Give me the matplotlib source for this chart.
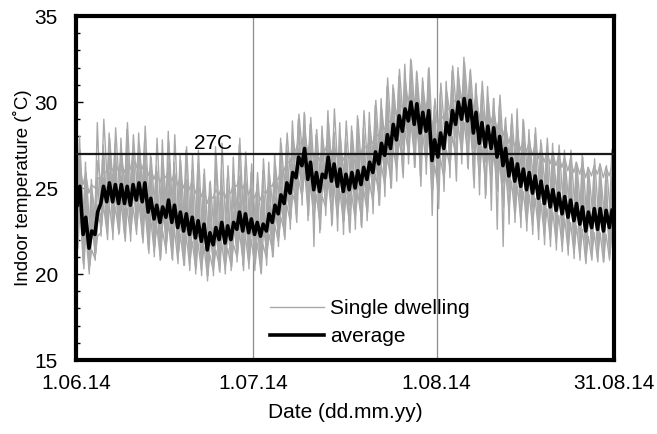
import numpy as np
from matplotlib import pyplot as plt

plt.rcParams['font.family'] = ['Liberation Sans', 'DejaVu Sans']

# data ---------------------------------------------
# daily low / high values, 1.06.14 .. 30.08.14 (91 days)
avg_lo = [24.0, 22.3, 21.5, 22.3, 24.1, 24.2, 24.2, 24.1, 24.1, 24.0,
          24.3, 24.2, 23.6, 23.2, 23.0, 23.3, 23.0, 22.7, 22.5, 22.3,
          22.1, 21.9, 21.4, 21.7, 22.0, 21.8, 22.0, 22.6, 22.5, 22.4,
          22.3, 22.2, 22.5, 23.0, 23.5, 24.1, 24.7, 25.6, 26.3, 25.5,
          24.9, 24.8, 25.6, 25.4, 25.1, 24.8, 24.9, 25.0, 25.2, 25.5,
          25.9, 26.4, 26.9, 27.3, 27.8, 28.3, 28.9, 28.7, 28.2, 28.3,
          26.6, 26.8, 27.3, 28.1, 28.7, 29.0, 28.9, 28.2, 27.6, 27.4,
          27.3, 26.8, 26.3, 25.7, 25.4, 25.1, 24.9, 24.7, 24.4, 24.1,
          23.9, 23.7, 23.5, 23.3, 23.1, 22.9, 22.5, 22.7, 22.6, 22.5, 22.7]
avg_hi = [25.1, 23.3, 22.5, 23.6, 25.1, 25.3, 25.2, 25.2, 25.1, 25.2,
          25.3, 25.3, 24.4, 24.0, 23.9, 24.3, 24.0, 23.6, 23.5, 23.3,
          23.1, 22.9, 22.4, 22.7, 23.0, 22.8, 23.0, 23.6, 23.5, 23.2,
          23.0, 22.9, 23.5, 24.0, 24.6, 25.3, 25.9, 26.8, 27.3, 26.5,
          25.9, 25.8, 26.8, 26.4, 26.1, 25.8, 25.9, 26.0, 26.2, 26.5,
          27.1, 27.6, 28.1, 28.7, 29.2, 29.6, 30.0, 29.9, 29.4, 29.5,
          27.8, 28.2, 28.8, 29.5, 30.0, 30.2, 30.1, 29.4, 28.8, 28.6,
          28.5, 28.0, 27.3, 26.7, 26.4, 26.1, 25.9, 25.7, 25.4, 25.1,
          24.9, 24.7, 24.5, 24.3, 24.1, 23.9, 23.6, 23.8, 23.8, 23.7, 23.7]

d1_lo = [23.8, 22.0, 21.6, 22.5, 24.0, 24.2, 24.1, 23.9, 24.0, 23.8,
         24.2, 24.0, 23.2, 22.9, 22.8, 23.1, 22.8, 22.5, 22.4, 22.1,
         21.9, 21.8, 21.1, 21.5, 21.8, 21.6, 21.9, 22.4, 22.2, 22.0,
         22.0, 21.8, 22.2, 22.7, 23.2, 23.8, 24.5, 25.3, 26.0, 25.2,
         24.6, 24.5, 25.3, 25.1, 24.8, 24.5, 24.6, 24.7, 24.9, 25.2,
         25.6, 26.0, 26.5, 27.0, 27.4, 27.9, 28.4, 28.3, 27.8, 27.9,
         26.2, 26.4, 26.9, 27.6, 28.3, 28.5, 28.5, 27.8, 27.2, 27.0,
         26.9, 26.4, 25.9, 25.3, 25.0, 24.7, 24.5, 24.2, 24.0, 23.7,
         23.4, 23.2, 23.0, 22.8, 22.6, 22.4, 22.0, 22.2, 22.1, 22.0, 22.3]
d1_hi = [28.0, 26.5, 25.5, 28.8, 27.5, 28.2, 27.6, 27.9, 28.4, 27.3,
         28.2, 27.8, 26.9, 26.3, 27.8, 28.3, 26.5, 26.9, 27.2, 26.0,
         26.4, 25.8, 25.3, 27.4, 26.1, 25.6, 26.8, 27.5, 26.2, 25.9,
         25.2, 26.0, 26.5, 27.0, 27.9, 27.6, 28.9, 29.0, 29.4, 28.7,
         28.1, 28.6, 29.5, 28.3, 28.8, 27.9, 28.6, 29.2, 28.5, 29.4,
         29.8, 30.2, 30.9, 31.0, 31.5, 32.2, 32.5, 31.8, 31.4, 31.9,
         29.8, 30.5, 31.2, 31.8, 32.0, 32.6, 31.6, 31.0, 30.6, 30.9,
         30.2, 29.8, 29.0, 28.7, 29.6, 29.0, 28.4, 28.1, 27.8, 27.4,
         27.6, 27.0, 27.2, 26.7, 26.5, 26.9, 26.2, 26.0, 26.4, 25.8, 27.2]

d2_lo = [25.7, 25.2, 24.7, 25.0, 25.5, 25.9, 26.0, 26.0, 25.9, 26.1,
         26.2, 26.1, 25.7, 25.5, 25.3, 25.6, 25.4, 25.1, 25.0, 24.9,
         24.7, 24.5, 24.1, 24.4, 24.6, 24.4, 24.7, 25.1, 24.9, 24.6,
         24.4, 24.3, 24.7, 25.1, 25.5, 26.0, 26.5, 27.2, 27.6, 27.1,
         26.7, 26.6, 27.2, 27.0, 26.8, 26.6, 26.7, 26.8, 27.0, 27.3,
         27.6, 28.0, 28.4, 28.8, 29.3, 29.7, 30.1, 30.0, 29.6, 29.7,
         28.6, 28.7, 29.0, 29.6, 30.0, 30.2, 30.1, 29.6, 29.1, 28.9,
         28.8, 28.4, 28.0, 27.6, 27.4, 27.2, 27.1, 26.9, 26.7, 26.5,
         26.4, 26.3, 26.2, 26.0, 25.9, 25.8, 25.6, 25.7, 25.8, 25.6, 25.7]
d2_hi = [26.3, 25.8, 25.2, 25.6, 26.0, 26.4, 26.5, 26.6, 26.4, 26.7,
         26.8, 26.6, 26.2, 26.0, 25.8, 26.1, 25.9, 25.7, 25.5, 25.4,
         25.2, 25.0, 24.6, 24.9, 25.1, 24.9, 25.2, 25.6, 25.4, 25.1,
         24.9, 24.8, 25.2, 25.6, 26.0, 26.5, 27.0, 27.7, 28.2, 27.6,
         27.2, 27.1, 27.8, 27.5, 27.3, 27.1, 27.2, 27.3, 27.5, 27.8,
         28.2, 28.6, 29.0, 29.4, 29.9, 30.3, 30.7, 30.6, 30.2, 30.3,
         29.2, 29.3, 29.6, 30.2, 30.6, 30.8, 30.7, 30.2, 29.7, 29.5,
         29.4, 29.0, 28.6, 28.2, 28.0, 27.8, 27.7, 27.5, 27.3, 27.1,
         27.0, 26.9, 26.8, 26.6, 26.5, 26.4, 26.2, 26.3, 26.4, 26.2, 26.3]

d3_lo = [22.2, 20.8, 20.2, 20.9, 22.4, 22.5, 22.4, 22.5, 22.3, 22.3,
         22.5, 22.3, 21.7, 21.3, 21.1, 21.4, 21.1, 20.8, 20.7, 20.5,
         20.4, 20.2, 19.9, 20.2, 20.5, 20.3, 20.5, 21.0, 20.9, 20.6,
         20.5, 20.4, 20.9, 21.4, 21.9, 22.5, 23.1, 24.0, 24.5, 23.8,
         23.2, 23.1, 23.9, 23.6, 23.3, 23.0, 23.1, 23.2, 23.4, 23.7,
         24.2, 24.7, 25.2, 25.6, 26.1, 26.6, 27.1, 26.9, 26.4, 26.5,
         24.6, 25.1, 25.6, 26.3, 26.9, 27.1, 27.0, 26.3, 25.7, 25.5,
         25.4, 24.9, 24.3, 23.8, 23.5, 23.2, 23.0, 22.8, 22.5, 22.2,
         22.0, 21.8, 21.6, 21.4, 21.2, 21.0, 20.7, 20.9, 20.8, 20.7, 20.9]
d3_hi = [23.8, 22.4, 21.4, 22.2, 24.0, 24.0, 23.9, 24.1, 23.8, 23.9,
         24.1, 23.8, 23.2, 22.8, 22.5, 23.0, 22.6, 22.3, 22.2, 21.9,
         21.8, 21.6, 21.1, 21.4, 21.8, 21.5, 21.7, 22.4, 22.2, 22.0,
         21.8, 21.7, 22.3, 22.8, 23.3, 24.0, 24.6, 25.5, 26.0, 25.3,
         24.6, 24.5, 25.4, 25.1, 24.8, 24.5, 24.6, 24.7, 24.9, 25.3,
         25.8, 26.3, 26.8, 27.3, 27.8, 28.3, 28.8, 28.6, 28.1, 28.2,
         26.3, 26.7, 27.2, 28.0, 28.6, 28.8, 28.7, 28.0, 27.4, 27.2,
         27.1, 26.6, 26.0, 25.4, 25.1, 24.8, 24.6, 24.4, 24.1, 23.8,
         23.6, 23.4, 23.2, 23.0, 22.8, 22.6, 22.2, 22.4, 22.4, 22.3, 22.4]

d4_lo = [22.0, 20.6, 20.0, 20.8, 22.2, 22.4, 22.0, 22.3, 22.1, 21.9,
         22.3, 22.1, 21.4, 21.0, 20.8, 21.2, 20.9, 20.6, 20.5, 20.2,
         20.0, 19.9, 19.6, 19.9, 20.2, 20.0, 20.2, 20.7, 20.5, 20.3,
         20.2, 20.1, 20.5, 21.0, 21.6, 22.2, 22.6, 23.5, 24.0, 23.1,
         21.6, 22.4, 23.4, 22.8, 22.5, 22.3, 22.5, 22.6, 22.8, 23.1,
         23.5, 24.0, 24.5, 25.0, 25.4, 25.9, 26.4, 26.2, 25.7, 25.8,
         23.4, 24.2, 24.8, 25.6, 26.2, 26.4, 26.2, 25.5, 24.6, 24.4,
         23.7, 22.6, 21.6, 22.9, 23.0, 22.7, 22.5, 22.3, 22.0, 21.7,
         21.6, 21.4, 21.3, 21.1, 20.9, 20.8, 20.6, 20.8, 20.7, 20.7, 20.8]
d4_hi = [26.8, 25.0, 24.2, 25.6, 27.0, 27.4, 26.8, 27.3, 26.9, 27.1,
         27.5, 27.0, 26.2, 25.8, 25.6, 26.4, 25.8, 25.4, 25.3, 25.0,
         24.9, 24.6, 24.1, 24.5, 24.9, 24.6, 25.0, 25.7, 25.4, 25.0,
         24.8, 24.6, 25.3, 25.8, 26.3, 27.2, 27.9, 28.8, 29.3, 28.4,
         27.8, 27.6, 28.5, 28.2, 27.9, 27.6, 27.8, 27.9, 28.1, 28.5,
         29.0, 29.5, 30.0, 30.6, 31.0, 31.5, 31.9, 31.7, 31.2, 31.3,
         29.4, 29.9, 30.5, 31.1, 31.7, 31.9, 31.8, 31.1, 30.5, 30.3,
         30.2, 29.7, 29.1, 28.5, 28.2, 27.9, 27.7, 27.4, 27.2, 26.9,
         26.8, 26.5, 26.4, 26.1, 25.9, 25.7, 25.3, 25.5, 25.6, 25.4, 25.6]

d5_lo = [23.1, 21.7, 21.0, 21.6, 23.2, 23.4, 23.3, 23.3, 23.2, 23.2,
         23.4, 23.2, 22.6, 22.2, 22.1, 22.4, 22.1, 21.8, 21.7, 21.4,
         21.3, 21.1, 20.6, 20.9, 21.2, 21.0, 21.2, 21.8, 21.6, 21.4,
         21.3, 21.2, 21.7, 22.2, 22.7, 23.3, 23.9, 24.8, 25.3, 24.6,
         24.0, 23.9, 24.8, 24.5, 24.2, 23.9, 24.0, 24.1, 24.3, 24.6,
         25.0, 25.5, 26.0, 26.5, 27.0, 27.5, 28.0, 27.8, 27.3, 27.4,
         25.7, 26.0, 26.5, 27.3, 27.9, 28.1, 28.0, 27.3, 26.7, 26.5,
         26.4, 25.9, 25.3, 24.8, 24.5, 24.2, 24.0, 23.8, 23.5, 23.2,
         23.0, 22.8, 22.6, 22.4, 22.2, 22.0, 21.6, 21.8, 21.8, 21.7, 21.8]
d5_hi = [25.5, 24.0, 23.2, 24.0, 25.6, 25.9, 25.8, 25.7, 25.6, 25.8,
         25.9, 25.7, 25.0, 24.6, 24.5, 24.9, 24.6, 24.1, 24.0, 23.8,
         23.6, 23.4, 22.9, 23.3, 23.6, 23.3, 23.6, 24.2, 24.0, 23.7,
         23.6, 23.5, 24.0, 24.5, 25.1, 25.8, 26.4, 27.3, 27.9, 27.0,
         26.5, 26.3, 27.3, 27.0, 26.7, 26.4, 26.5, 26.6, 26.8, 27.1,
         27.6, 28.1, 28.7, 29.2, 29.7, 30.2, 30.7, 30.5, 30.0, 30.1,
         28.5, 28.8, 29.3, 30.1, 30.7, 30.9, 30.8, 30.1, 29.5, 29.3,
         29.2, 28.7, 28.1, 27.5, 27.2, 26.9, 26.7, 26.5, 26.2, 25.9,
         25.7, 25.5, 25.3, 25.1, 24.9, 24.7, 24.3, 24.5, 24.5, 24.4, 24.5]

d6_lo = [24.6, 23.4, 22.8, 23.5, 25.0, 25.3, 24.9, 25.2, 25.0, 24.7,
         25.1, 24.8, 24.3, 24.0, 23.8, 24.2, 23.9, 23.6, 23.4, 23.2,
         23.0, 22.8, 22.4, 22.7, 23.0, 22.9, 23.1, 23.6, 23.4, 23.2,
         23.0, 22.9, 23.4, 23.9, 24.4, 25.0, 25.6, 26.4, 27.0, 26.3,
         25.8, 25.6, 26.4, 26.1, 25.9, 25.6, 25.7, 25.8, 26.0, 26.3,
         26.8, 27.2, 27.7, 28.2, 28.7, 29.1, 29.6, 29.4, 28.9, 29.0,
         27.8, 28.0, 28.5, 29.2, 29.7, 29.9, 29.8, 29.1, 28.6, 28.4,
         28.2, 27.8, 27.2, 26.7, 26.4, 26.1, 25.9, 25.7, 25.4, 25.1,
         24.9, 24.7, 24.5, 24.3, 24.1, 23.9, 23.6, 23.8, 23.7, 23.6, 23.8]
d6_hi = [27.2, 25.9, 24.8, 26.6, 29.0, 27.9, 28.5, 27.0, 28.8, 28.1,
         27.6, 28.6, 26.8, 27.9, 26.5, 27.7, 28.1, 26.6, 27.4, 26.9,
         27.2, 26.1, 25.4, 26.9, 27.6, 26.3, 25.8, 27.9, 27.1, 26.4,
         25.9, 26.7, 25.8, 26.4, 27.6, 28.2, 28.0, 29.3, 28.6, 29.1,
         28.4, 27.9, 28.8, 29.6, 28.0, 28.9, 28.3, 29.0, 29.5, 28.6,
         30.1, 29.6, 31.4, 30.8, 31.9, 31.2, 32.4, 31.5, 30.9, 32.0,
         30.2, 31.1, 30.6, 32.1, 31.4, 32.3, 31.9, 30.5, 31.2, 30.2,
         29.6, 30.4, 28.6, 29.3, 28.4, 28.9, 27.8, 28.5, 27.6, 27.9,
         27.1, 27.5, 26.6, 27.2, 26.4, 26.8, 26.0, 26.7, 25.9, 26.3, 25.8]

d7_lo = [21.5, 20.3, 20.5, 21.2, 22.8, 22.0, 23.1, 22.4, 21.9, 22.6,
         22.9, 21.8, 21.2, 21.6, 20.9, 21.9, 20.8, 21.3, 20.5, 20.9,
         20.3, 20.7, 19.9, 20.6, 20.1, 20.8, 20.4, 21.1, 20.2, 20.8,
         20.6, 20.0, 21.3, 21.0, 22.2, 22.0, 23.2, 23.0, 24.8, 23.4,
         23.8, 22.6, 24.1, 22.9, 23.9, 23.1, 22.4, 23.8, 22.7, 23.6,
         24.8, 24.0, 25.6, 25.0, 26.4, 25.6, 27.0, 26.2, 25.1, 26.8,
         24.9, 23.8, 25.9, 26.6, 25.4, 27.2, 26.1, 25.0, 26.4, 24.6,
         25.9, 24.8, 23.9, 24.9, 23.6, 24.4, 23.2, 24.0, 22.8, 23.5,
         22.6, 23.2, 22.1, 22.8, 21.7, 22.4, 21.3, 22.0, 21.5, 21.9, 21.2]
d7_hi = [24.2, 23.0, 22.6, 23.3, 25.0, 24.9, 24.7, 24.8, 24.6, 24.9,
         25.0, 24.6, 24.1, 23.7, 23.5, 23.9, 23.6, 23.2, 23.1, 22.9,
         22.7, 22.5, 22.1, 22.4, 22.8, 22.5, 22.7, 23.3, 23.1, 22.9,
         22.7, 22.6, 23.1, 23.6, 24.2, 24.8, 25.5, 26.3, 26.9, 26.1,
         25.6, 25.4, 26.3, 26.0, 25.7, 25.4, 25.5, 25.6, 25.8, 26.2,
         26.7, 27.2, 27.7, 28.3, 28.8, 29.3, 29.8, 29.6, 29.1, 29.2,
         27.9, 28.3, 28.9, 29.6, 30.1, 30.3, 30.2, 29.5, 28.9, 28.7,
         28.6, 28.1, 27.4, 26.8, 26.5, 26.2, 26.0, 25.8, 25.5, 25.2,
         25.0, 24.8, 24.6, 24.4, 24.2, 24.0, 23.7, 23.9, 23.9, 23.8, 23.9]

dwellings = [(d1_lo, d1_hi), (d2_lo, d2_hi), (d3_lo, d3_hi), (d4_lo, d4_hi),
             (d5_lo, d5_hi), (d6_lo, d6_hi), (d7_lo, d7_hi)]

tick_dates = ['2014-06-01', '2014-07-01', '2014-08-01', '2014-08-31']
tick_labels = ['1.06.14', '1.07.14', '1.08.14', '31.08.14']
limit = 27

start = np.datetime64('2014-06-01')
days = np.arange(len(avg_lo))
tick_pos = [(np.datetime64(d) - start).astype(int) for d in tick_dates]


def daily(lo, hi, t_lo=0.2, t_hi=0.65):
    # night minimum, afternoon maximum
    t = np.column_stack([days + t_lo, days + t_hi]).ravel()
    v = np.column_stack([lo, hi]).ravel()
    return t, v


# 그래프 -------------------------------------------
fig = plt.figure(figsize=(6.57, 4.34), dpi=100)
ax = fig.add_axes([0.1157, 0.1705, 0.819, 0.7926])

for p in tick_pos[1:3]:
    ax.axvline(p, color='#8c8c8c', lw=0.9, zorder=1)

for i, (lo, hi) in enumerate(dwellings):
    t, v = daily(lo, hi, 0.15 + 0.03 * i, 0.6 + 0.02 * i)
    ax.plot(t, v, color='#a9a9a9', lw=1.0, zorder=2,
            label='Single dwelling' if i == 0 else None)

ax.axhline(limit, color='#1a1a1a', lw=1.6, zorder=3)
ax.text(tick_pos[1] - 10, limit + 0.25, '27C', fontsize=15, zorder=4)

t, v = daily(avg_lo, avg_hi)
ax.plot(t, v, color='black', lw=2.6, zorder=5, label='average')

ax.set_xlim(tick_pos[0], tick_pos[-1])
ax.set_ylim(15, 35)
ax.set_xticks(tick_pos)
ax.set_xticklabels(tick_labels)
ax.set_yticks([15, 20, 25, 30, 35])
ax.set_yticks(np.arange(15, 36, 1), minor=True)
ax.tick_params(axis='y', which='major', direction='in', length=5, width=1,
               labelsize=15, pad=13)
ax.tick_params(axis='y', which='minor', direction='in', length=3, width=1)
ax.tick_params(axis='x', length=0, labelsize=15, pad=10)
for s in ax.spines.values():
    s.set_linewidth(3)

ax.set_xlabel('Date (dd.mm.yy)', fontsize=15, labelpad=7)
ax.set_ylabel('Indoor temperature (˚C)', fontsize=13.5, labelpad=2)

ax.legend(loc='lower left', bbox_to_anchor=(0.335, 0.0), frameon=False,
          fontsize=15, handlelength=2.6, handletextpad=0.3,
          labelspacing=0.45, borderaxespad=0.25)

fig.savefig('out.png', dpi=100)
